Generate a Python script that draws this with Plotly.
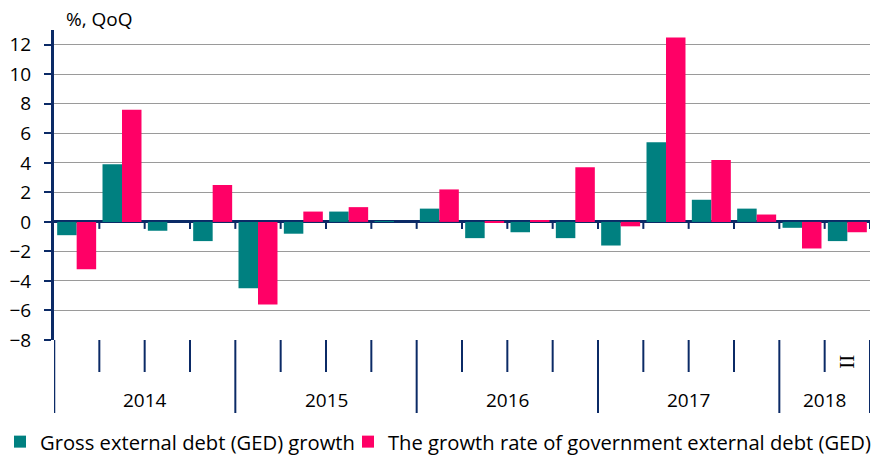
import plotly.graph_objects as go

# ---- data ----
years = [2014]*4 + [2015]*4 + [2016]*4 + [2017]*4 + [2018]*2
quarter_labels = [""]*17 + ["II"]
ged_growth = [-0.9, 3.9, -0.6, -1.3,
              -4.5, -0.8, 0.7, 0.05,
              0.9, -1.1, -0.7, -1.1,
              -1.6, 5.4, 1.5, 0.9,
              -0.4, -1.3]
gov_growth = [-3.2, 7.6, 0.0, 2.5,
              -5.6, 0.7, 1.0, 0.0,
              2.2, -0.05, 0.1, 3.7,
              -0.3, 12.5, 4.2, 0.5,
              -1.8, -0.7]
series_names = ["Gross external debt (GED) growth",
                "The growth rate of government external debt (GED)"]
y_ticks = list(range(-8, 13, 2))

TEAL = "#008080"
PINK = "#FF0066"
NAVY = "#0B2A66"
GRID = "#9A9A9A"
FONT = "Open Sans"
FS = 19
LFS = 20.2

n = len(years)
x = list(range(n))

fig = go.Figure()
fig.add_trace(go.Bar(x=x, y=ged_growth, name=series_names[0],
                     marker=dict(color=TEAL, line=dict(width=0)), legend="legend"))
fig.add_trace(go.Bar(x=x, y=gov_growth, name=series_names[1],
                     marker=dict(color=PINK, line=dict(width=0)), legend="legend2"))

H_PLOT = 310.0
def py(px_below):  # pixels below plot bottom -> paper y
    return -px_below / H_PLOT

shapes = []
uniq_years = []
for yv in years:
    if yv not in uniq_years:
        uniq_years.append(yv)
year_bounds = set([-0.5, n - 0.5])
for i in range(1, n):
    if years[i] != years[i-1]:
        year_bounds.add(i - 0.5)
for i in range(n + 1):
    b = i - 0.5
    L = 73 if b in year_bounds else 32
    shapes.append(dict(type="line", xref="x", yref="paper", x0=b, x1=b,
                       y0=0, y1=py(L), line=dict(color=NAVY, width=2.5 if b == -0.5 else 2)))
for i in range(1, n + 1):
    b = i - 0.5
    shapes.append(dict(type="line", xref="x", yref="y", ysizemode="pixel", yanchor=0,
                       x0=b, x1=b, y0=0, y1=-7, line=dict(color=NAVY, width=2)))

annotations = []
for yv in uniq_years:
    idx = [i for i, v in enumerate(years) if v == yv]
    annotations.append(dict(x=(idx[0] + idx[-1]) / 2, y=py(60), xref="x", yref="paper",
                            text=str(yv), showarrow=False, yanchor="middle",
                            font=dict(family=FONT, size=FS, color="black")))
for i, q in enumerate(quarter_labels):
    if q:
        annotations.append(dict(x=i, y=py(22), xref="x", yref="paper", text=q,
                                showarrow=False, textangle=90, yanchor="middle",
                                font=dict(family="Liberation Serif", size=21, color="black")))
annotations.append(dict(x=10/816, y=(340-19)/H_PLOT, xref="paper", yref="paper",
                        text="%, QoQ", showarrow=False, xanchor="left", yanchor="middle",
                        font=dict(family=FONT, size=FS, color="black")))

fig.update_layout(
    width=881, height=456,
    margin=dict(l=54, r=11, t=30, b=116, autoexpand=False),
    paper_bgcolor="white", plot_bgcolor="white",
    barmode="group", bargap=0.14, bargroupgap=0,
    showlegend=True,
    font=dict(family=FONT, size=FS, color="black"),
    xaxis=dict(range=[-0.5, n - 0.5], showticklabels=False, showgrid=False,
               zeroline=False, showline=False, ticks="", automargin=False),
    yaxis=dict(range=[-8, 13], tickvals=y_ticks, showgrid=True, gridcolor=GRID,
               gridwidth=1.3, zeroline=True, zerolinecolor=NAVY, zerolinewidth=2.5,
               showline=True, linecolor=NAVY, linewidth=3, ticks="outside",
               ticklen=7, tickwidth=2, tickcolor=NAVY, ticklabelstandoff=9,
               automargin=False,
               tickfont=dict(family=FONT, size=FS, color="black")),
    legend=dict(orientation="h", xref="container", yref="container",
                x=0.0, y=14/456, xanchor="left", yanchor="middle",
                font=dict(family=FONT, size=LFS, color="black"),
                bgcolor="rgba(0,0,0,0)"),
    legend2=dict(orientation="h", xref="container", yref="container",
                 x=348/881, y=14/456, xanchor="left", yanchor="middle",
                 font=dict(family=FONT, size=LFS, color="black"),
                 bgcolor="rgba(0,0,0,0)"),
    shapes=shapes, annotations=annotations,
)

fig.write_html("out.html", config={"displayModeBar": False},
               post_script="document.body.style.margin='0px';")
